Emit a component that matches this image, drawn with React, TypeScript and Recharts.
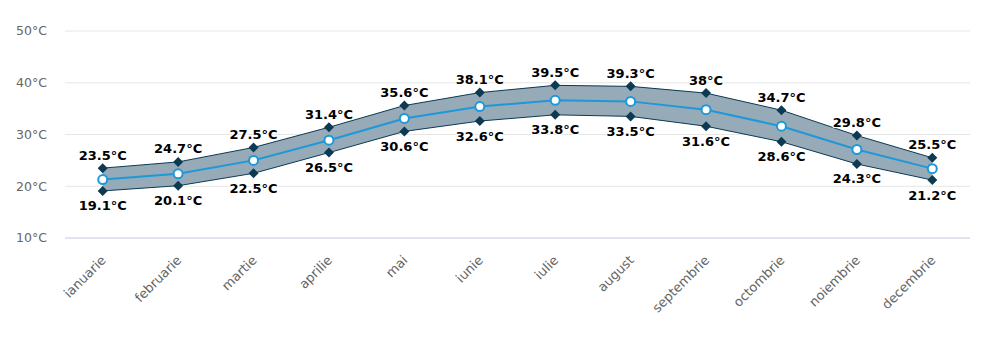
import React from "react";
import { ComposedChart, Area, Line, XAxis, YAxis, CartesianGrid, LabelList } from "recharts";

const months = ["ianuarie", "februarie", "martie", "aprilie", "mai", "iunie", "iulie", "august", "septembrie", "octombrie", "noiembrie", "decembrie"];
const highs = [23.5, 24.7, 27.5, 31.4, 35.6, 38.1, 39.5, 39.3, 38, 34.7, 29.8, 25.5];
const lows = [19.1, 20.1, 22.5, 26.5, 30.6, 32.6, 33.8, 33.5, 31.6, 28.6, 24.3, 21.2];
const avgs = [21.3, 22.4, 25.0, 28.9, 33.1, 35.4, 36.6, 36.4, 34.8, 31.6, 27.1, 23.4];
const yTicks = [10, 20, 30, 40, 50];

const data = months.map((m, i) => ({ month: m, high: highs[i], low: lows[i], avg: avgs[i] }));

const FONT = "'DejaVu Sans', Verdana, sans-serif";

const Diamond = (props: any) => {
  const { cx, cy } = props;
  if (cx == null || cy == null) return null;
  const s = 5;
  return <path d={`M${cx},${cy - s} L${cx + s},${cy} L${cx},${cy + s} L${cx - s},${cy} Z`} fill="#0c3a52" />;
};

const Circle = (props: any) => {
  const { cx, cy } = props;
  if (cx == null || cy == null) return null;
  return <circle cx={cx} cy={cy} r={4.5} fill="#ffffff" stroke="#1e98d8" strokeWidth={2} />;
};

const makeLabel = (dy: number) => (props: any) => {
  const { x, y, value } = props;
  return (
    <text
      x={x}
      y={y + dy}
      textAnchor="middle"
      dominantBaseline="central"
      fontFamily={FONT}
      fontSize={13}
      fontWeight="bold"
      fill="#000000"
      stroke="#ffffff"
      strokeWidth={2}
      strokeLinejoin="round"
      style={{ paintOrder: "stroke" }}
    >
      {`${value}°C`}
    </text>
  );
};

const XTick = (props: any) => {
  const { x, y, payload } = props;
  return (
    <text
      x={0}
      y={0}
      transform={`translate(${x + 4},${y + 15}) rotate(-45)`}
      textAnchor="end"
      fontFamily={FONT}
      fontSize={13}
      fill="#666666"
    >
      {payload.value}
    </text>
  );
};

export default function App() {
  return (
    <div style={{ position: "absolute", left: 0, top: 0, background: "#fff" }}>
      <ComposedChart width={985} height={356} data={data} margin={{ top: 31, right: 15, left: 0, bottom: 0 }}>
        <CartesianGrid vertical={false} stroke="#e6e6e6" />
        <XAxis
          dataKey="month"
          scale="band"
          height={118}
          tickLine={false}
          axisLine={{ stroke: "#ccd6eb" }}
          tick={<XTick />}
          interval={0}
        />
        <YAxis
          width={65}
          domain={[10, 50]}
          ticks={yTicks}
          tickLine={false}
          axisLine={false}
          tickSize={0}
          tickMargin={18}
          tick={{ fontFamily: FONT, fontSize: 12.5, fill: "#666666" }}
          tickFormatter={(v: number) => `${v}°C`}
        />
        <Area
          dataKey={(d: any) => [d.low, d.high]}
          type="linear"
          fill="#97aab8"
          fillOpacity={1}
          stroke="#0c3a52"
          strokeWidth={1}
          dot={false}
          activeDot={false}
          isAnimationActive={false}
        />
        <Line dataKey="high" type="linear" stroke="none" dot={<Diamond />} activeDot={false} isAnimationActive={false}>
          <LabelList dataKey="high" content={makeLabel(-13)} />
        </Line>
        <Line dataKey="low" type="linear" stroke="none" dot={<Diamond />} activeDot={false} isAnimationActive={false}>
          <LabelList dataKey="low" content={makeLabel(15)} />
        </Line>
        <Line dataKey="avg" type="linear" stroke="#1e98d8" strokeWidth={2} dot={<Circle />} activeDot={false} isAnimationActive={false} />
      </ComposedChart>
    </div>
  );
}
